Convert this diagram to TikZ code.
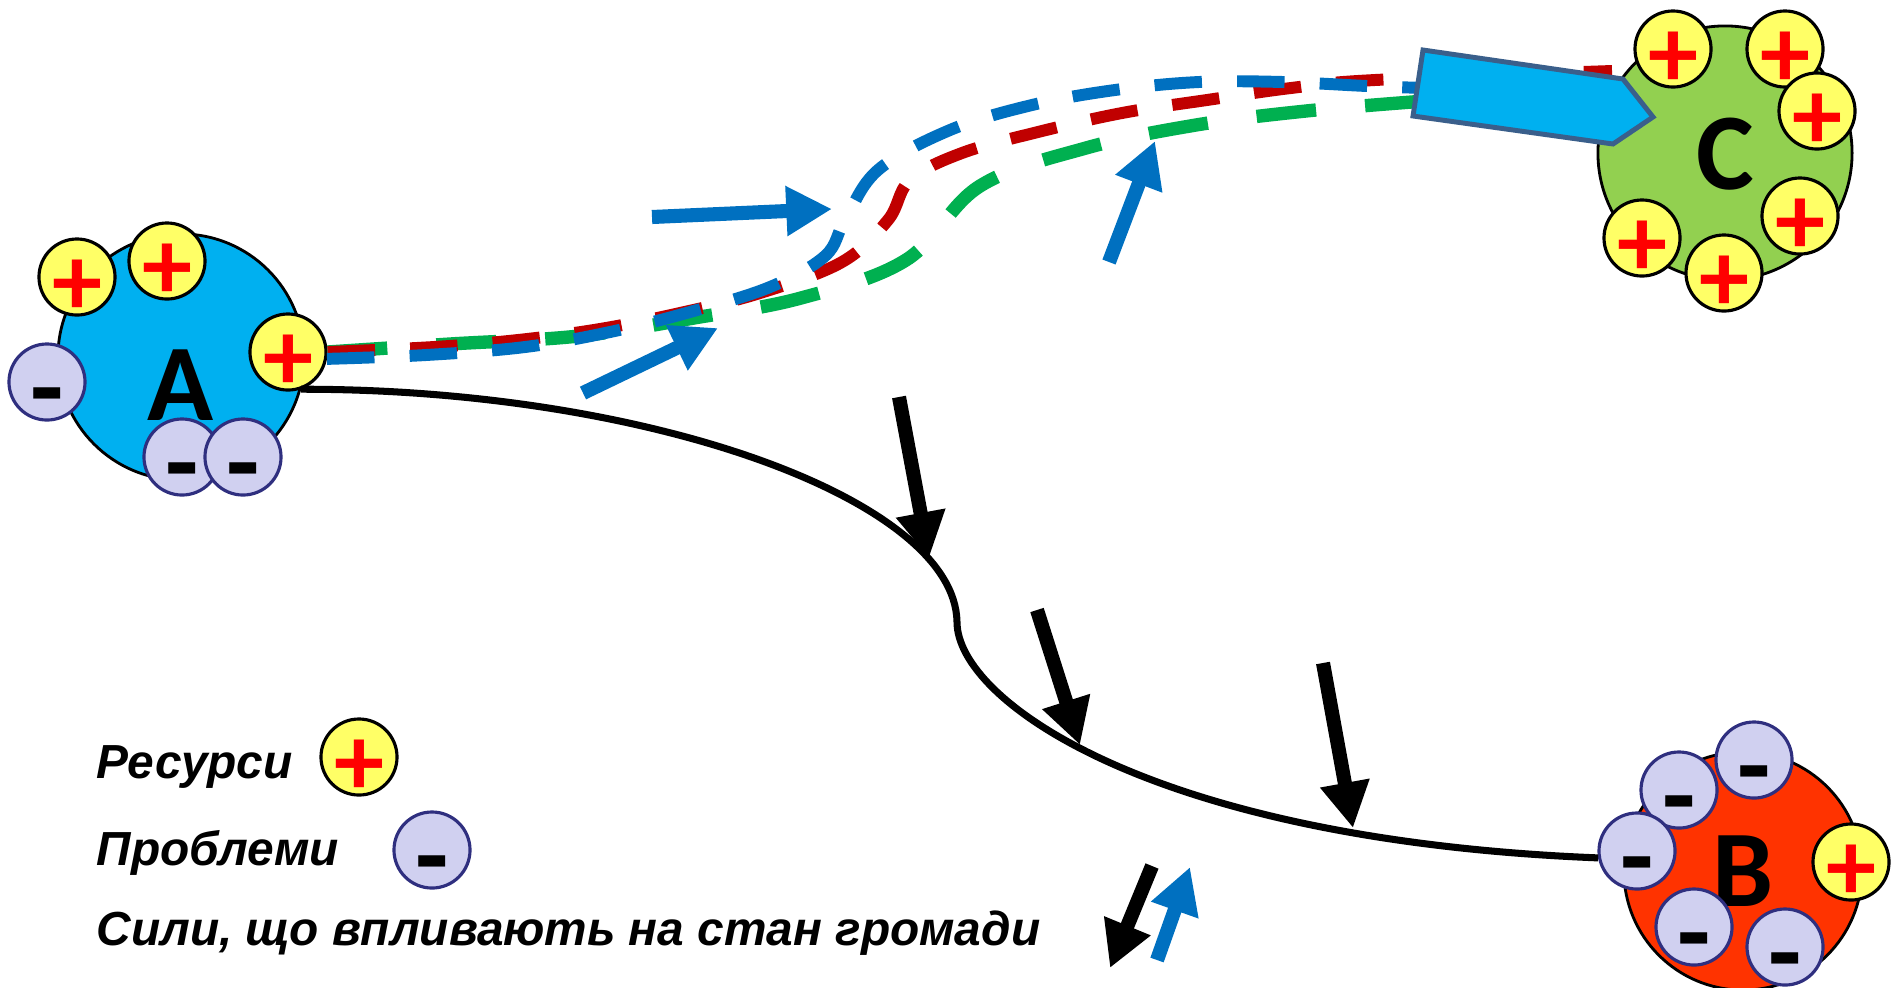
\documentclass[tikz,border=0pt]{standalone}
\usepackage{fontspec}
\setmainfont{Liberation Sans}
\newfontfamily\ballfont{Carlito}
\usetikzlibrary{arrows.meta}
\definecolor{ballA}{HTML}{00B0F0}
\definecolor{ballB}{HTML}{FF3300}
\definecolor{ballC}{HTML}{92D050}
\definecolor{resfill}{HTML}{FFFF66}
\definecolor{probfill}{HTML}{D0D0F0}
\definecolor{probedge}{HTML}{2F2F7F}
\definecolor{trackred}{HTML}{C00000}
\definecolor{trackblue}{HTML}{0070C0}
\definecolor{trackgreen}{HTML}{00B050}
\definecolor{pushedge}{HTML}{3A5F8B}
% text sunk below the middle of its circle
\newcommand{\sunk}[2]{\makebox[0pt]{\raisebox{-#1}[0pt][0pt]{#2}}}
\newcommand{\resmark}{\sunk{10.9pt}{+}}
\newcommand{\probmark}{\sunk{12pt}{-}}
\tikzset{
    ball/.style={circle, draw, line width=0.8pt, inner sep=0pt, font={\ballfont\bfseries\fontsize{31}{31}\selectfont}},
    sign/.style={circle, minimum size=0.76cm, inner sep=0pt, line width=0.9pt},
    resource/.style={sign, draw=black, fill=resfill, text=red, font={\ballfont\bfseries\fontsize{28.5}{28.5}\selectfont}},
    problem/.style={sign, draw=probedge, fill=probfill, text=black, font={\ballfont\bfseries\fontsize{31}{31}\selectfont}},
    track/.style={line width=3.4pt, dash pattern=on 13.5pt off 10pt},
    force/.style={line width=4pt, -{Triangle[length=13pt, width=13.4pt]}},
    legend/.style={anchor=base west, inner sep=0pt, font={\bfseries\itshape\fontsize{13.6}{15}\selectfont}}
}
\begin{document}
\begin{tikzpicture}[x=0.01cm, y=-0.01cm]
    \useasboundingbox (0,0) rectangle (1891,987);

    % Community A
    \node[ball, fill=ballA, minimum size=2.46cm] (A) at (181,357) {\sunk{18pt}{A}};
    \node[resource] (A-p1) at (77,277) {\resmark};
    \node[resource] (A-p2) at (167,261) {\resmark};
    \node[resource] (A-p3) at (288,352) {\resmark};
    \node[problem] (A-m1) at (47,382) {\probmark};
    \node[problem] (A-m2) at (182,457) {\probmark};
    \node[problem] (A-m3) at (243,457) {\probmark};

    % Community C
    \node[ball, fill=ballC, minimum size=2.54cm] (C) at (1725,153) {\sunk{10.5pt}{C}};
    \node[resource] (C-p1) at (1673,49) {\resmark};
    \node[resource] (C-p2) at (1785,49) {\resmark};
    \node[resource] (C-p3) at (1817,111) {\resmark};
    \node[resource] (C-p4) at (1800,216) {\resmark};
    \node[resource] (C-p5) at (1724,273) {\resmark};
    \node[resource] (C-p6) at (1642,238) {\resmark};

    % Community B
    \node[ball, fill=ballB, minimum size=2.38cm] (B) at (1743,871) {\sunk{10pt}{B}};
    \node[problem] (B-m1) at (1754,760) {\probmark};
    \node[problem] (B-m2) at (1679,790) {\probmark};
    \node[problem] (B-m3) at (1637,851) {\probmark};
    \node[problem] (B-m4) at (1694,927) {\probmark};
    \node[problem] (B-m5) at (1785,947) {\probmark};
    \node[resource] (B-p1) at (1851,862) {\resmark};

    % Path of decline A -> B
    \draw[line width=2pt] (A.-15) .. controls (650,389) and (955,500) .. (957,622)
        .. controls (957,700) and (1150,840) .. (B-m3.190);

    % Paths of development A -> C
    \draw[track, trackgreen, line width=3.8pt, dash pattern=on 17pt off 14pt] plot[smooth, tension=0.6] coordinates {(A-p3.east) (450,344) (579,336) (694,318) (801,298) (906,260) (980,186) (1086,148) (1196,125) (1306,111) (1425,101)};
    \draw[track, trackred] plot[smooth, tension=0.6] coordinates {(A-p3.east) (434,347) (518,340) (600,329) (680,313) (760,293) (842,262) (888,220) (910,180) (962,153) (1038,132) (1122,113) (1207,100) (1291,88) (1375,80) (1612,71)};
    \draw[track, trackblue] plot[smooth, tension=0.6] coordinates {(A-p3.-10) (426,355) (525,347) (610,332) (690,312) (770,287) (825,256) (845,220) (878,170) (950,130) (1032,105) (1115,90) (1199,82) (1283,82) (1367,86) (1425,88)};

    % Push towards C
    \draw[pushedge, fill=ballA, line width=1.4pt] (1423,50) -- (1623,79) -- (1653,117) -- (1613,144) -- (1413,116) -- cycle;

    % Supporting forces
    \draw[force, trackblue] (652,217) -- (832,209);
    \draw[force, trackblue] (583,393) -- (718,328);
    \draw[force, trackblue] (1109,262) -- (1155,141);

    % Pressing forces
    \draw[force] (899,397) -- (929,558);
    \draw[force] (1037,610) -- (1080,745);
    \draw[force] (1323,663) -- (1353,828);

    % Legend
    \node[legend] (res-text) at (96,778) {Ресурси};
    \node[resource] (res-key) at (359,757) {\resmark};
    \node[legend] (prob-text) at (96,865) {Проблеми};
    \node[problem] (prob-key) at (432,850) {\probmark};
    \node[legend] (force-text) at (96,945) {Сили, що впливають на стан громади};
    \draw[force] (1152,866) -- (1110,968);
    \draw[force, trackblue] (1157,960) -- (1190,867);
\end{tikzpicture}
\end{document}
